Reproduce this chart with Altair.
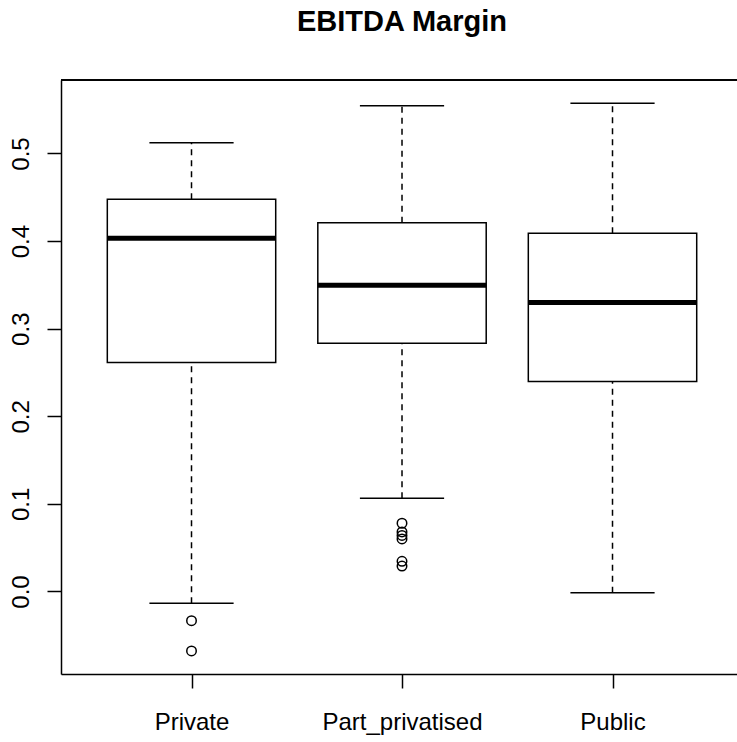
import altair as alt
import pandas as pd

# Five-number summaries of EBITDA margin by ownership type
groups = ["Private", "Part_privatised", "Public"]
lower_whisker = [-0.0135, 0.1064, -0.0015]
q1 = [0.2614, 0.2835, 0.2397]
median = [0.4032, 0.3495, 0.3300]
q3 = [0.4477, 0.4210, 0.4089]
upper_whisker = [0.5123, 0.5546, 0.5573]

# Points beyond the whiskers
outlier_group = ["Private", "Private",
                 "Part_privatised", "Part_privatised", "Part_privatised",
                 "Part_privatised", "Part_privatised", "Part_privatised"]
outlier_value = [-0.0333, -0.0679,
                 0.0779, 0.0680, 0.0640, 0.0600, 0.0345, 0.0290]

FONT = "Liberation Sans"
PLOT_W, PLOT_H = 676, 594
X_MIN, X_MAX = 0.38, 3.5914
Y_MIN, Y_MAX = -0.0942, 0.5839

pos = {g: i + 1 for i, g in enumerate(groups)}
stats = pd.DataFrame({
    "group": groups,
    "lo": lower_whisker, "q1": q1, "med": median, "q3": q3, "hi": upper_whisker,
})
stats["x"] = stats["group"].map(pos)
stats["box_l"] = stats["x"] - 0.4
stats["box_r"] = stats["x"] + 0.4
stats["cap_l"] = stats["x"] - 0.2
stats["cap_r"] = stats["x"] + 0.2

outliers = pd.DataFrame({"group": outlier_group, "value": outlier_value})
outliers["x"] = outliers["group"].map(pos)

label_expr = "datum.value == 1 ? 'Private' : datum.value == 2 ? 'Part_privatised' : 'Public'"

x_scale = alt.Scale(domain=[X_MIN, X_MAX], nice=False, zero=False)
y_scale = alt.Scale(domain=[Y_MIN, Y_MAX], nice=False, zero=False)

x_axis = alt.Axis(
    values=[1, 2, 3], labelExpr=label_expr, title=None, grid=False,
    tickSize=14, tickWidth=1.5, tickColor="black", domainColor="black",
    domainWidth=1.5, labelFont=FONT, labelFontSize=24, labelColor="black",
    labelPadding=22, labelFlush=False, labelOverlap=False,
)
y_axis = alt.Axis(
    values=[0.0, 0.1, 0.2, 0.3, 0.4, 0.5], format=".1f", title=None, grid=False,
    tickSize=14, tickWidth=1.5, tickColor="black", domainColor="black",
    domainWidth=1.5, labelFont=FONT, labelFontSize=24, labelColor="black",
    labelAngle=270, labelAlign="center", labelBaseline="alphabetic",
    labelPadding=19, labelFlush=False, labelOverlap=False,
)

base = alt.Chart(stats)

whisker_up = base.mark_rule(color="black", strokeWidth=1.5, strokeDash=[6, 5]).encode(
    x=alt.X("x:Q", scale=x_scale, axis=x_axis),
    y=alt.Y("q3:Q", scale=y_scale, axis=y_axis),
    y2="hi:Q",
)
whisker_down = base.mark_rule(color="black", strokeWidth=1.5, strokeDash=[6, 5]).encode(
    x="x:Q", y="lo:Q", y2="q1:Q",
)
cap_hi = base.mark_rule(color="black", strokeWidth=1.5).encode(
    x="cap_l:Q", x2="cap_r:Q", y="hi:Q",
)
cap_lo = base.mark_rule(color="black", strokeWidth=1.5).encode(
    x="cap_l:Q", x2="cap_r:Q", y="lo:Q",
)
box = base.mark_rect(fill="white", stroke="black", strokeWidth=1.5).encode(
    x="box_l:Q", x2="box_r:Q", y="q1:Q", y2="q3:Q",
)
med_line = base.mark_rule(color="black", strokeWidth=5).encode(
    x="box_l:Q", x2="box_r:Q", y="med:Q",
)
points = alt.Chart(outliers).mark_point(
    shape="circle", filled=False, color="black", strokeWidth=1.5, size=90, opacity=1
).encode(x="x:Q", y="value:Q")

# Top edge of the plot frame
top_edge = alt.Chart(stats).mark_rule(color="black", strokeWidth=1.5).encode(
    x=alt.value(0), x2=alt.value(PLOT_W), y=alt.value(0),
)

chart = alt.layer(
    whisker_up, whisker_down, cap_hi, cap_lo, box, med_line, points, top_edge
).properties(
    width=PLOT_W,
    height=PLOT_H,
    title=alt.TitleParams(
        "EBITDA Margin", font=FONT, fontSize=29, fontWeight="bold",
        color="black", anchor="middle", baseline="alphabetic", offset=19, dx=3,
    ),
    autosize=alt.AutoSizeParams(type="none"),
    padding={"left": 61, "top": 80, "right": 0, "bottom": 68},
).configure_view(
    stroke=None
).configure(
    background="white"
)

chart.save("out.html", embed_options={"renderer": "svg", "actions": False})
